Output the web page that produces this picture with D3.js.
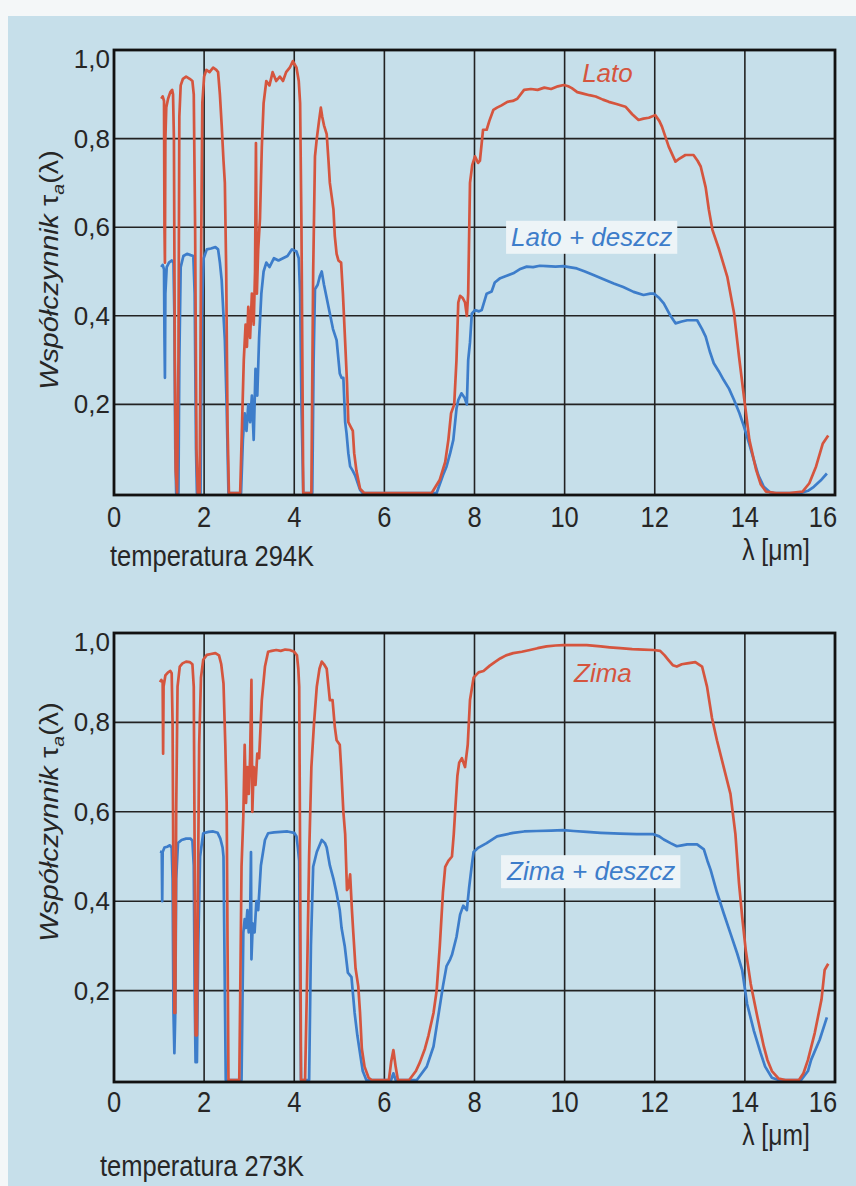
<!DOCTYPE html>
<html><head><meta charset="utf-8">
<script src="https://cdn.jsdelivr.net/npm/d3@7"></script>
<style>
html,body{margin:0;padding:0;background:#fff;}
svg{display:block;}
text{font-family:"Liberation Sans",Arial,sans-serif;}
</style></head>
<body>
<svg id="chart" width="856" height="1186"></svg>
<script>
// ---------- data ----------
const xTicks = [0, 2, 4, 6, 8, 10, 12, 14, 16];
const yTicks = [0.2, 0.4, 0.6, 0.8, 1.0];
const yTickLabels = ["0,2", "0,4", "0,6", "0,8", "1,0"];
const panelTitles = ["temperatura 294K", "temperatura 273K"];
const seriesNames = [["Lato", "Lato + deszcz"], ["Zima", "Zima + deszcz"]];

// [wavelength µm, transmittance]
const lato = [[1.05,0.89],[1.08,0.895],[1.11,0.885],[1.12,0.6],[1.13,0.52],[1.14,0.8],[1.16,0.87],[1.2,0.89],[1.25,0.905],[1.29,0.91],[1.31,0.9],[1.33,0.8],[1.35,0.3],[1.37,0.05],[1.4,0],[1.43,0.3],[1.45,0.85],[1.48,0.92],[1.53,0.935],[1.6,0.94],[1.68,0.935],[1.74,0.93],[1.77,0.9],[1.8,0.6],[1.83,0.1],[1.86,0],[1.9,0],[1.93,0.5],[1.96,0.88],[2.0,0.94],[2.05,0.955],[2.12,0.95],[2.2,0.96],[2.27,0.955],[2.31,0.95],[2.35,0.9],[2.39,0.83],[2.43,0.75],[2.46,0.7],[2.49,0.5],[2.52,0.15],[2.55,0],[2.8,0],[2.84,0.15],[2.88,0.3],[2.92,0.38],[2.95,0.33],[2.98,0.42],[3.02,0.35],[3.06,0.45],[3.1,0.38],[3.13,0.5],[3.15,0.79],[3.17,0.45],[3.2,0.55],[3.24,0.62],[3.28,0.78],[3.32,0.88],[3.38,0.93],[3.45,0.92],[3.52,0.95],[3.6,0.93],[3.68,0.94],[3.75,0.93],[3.82,0.95],[3.9,0.96],[3.97,0.975],[4.05,0.96],[4.1,0.93],[4.13,0.88],[4.16,0.6],[4.2,0],[4.38,0],[4.42,0.5],[4.46,0.76],[4.5,0.8],[4.55,0.84],[4.59,0.87],[4.62,0.85],[4.66,0.83],[4.72,0.81],[4.76,0.75],[4.79,0.7],[4.83,0.67],[4.87,0.64],[4.9,0.58],[4.94,0.54],[4.98,0.525],[5.04,0.52],[5.08,0.45],[5.13,0.34],[5.17,0.25],[5.2,0.16],[5.25,0.15],[5.3,0.14],[5.33,0.09],[5.38,0.05],[5.46,0.01],[5.55,0],[7.05,0],[7.23,0.03],[7.35,0.07],[7.42,0.12],[7.48,0.18],[7.55,0.2],[7.6,0.3],[7.64,0.43],[7.68,0.445],[7.74,0.44],[7.79,0.43],[7.83,0.4],[7.86,0.45],[7.9,0.7],[7.95,0.74],[8.01,0.76],[8.08,0.745],[8.12,0.75],[8.19,0.82],[8.27,0.82],[8.33,0.84],[8.42,0.865],[8.5,0.87],[8.6,0.875],[8.73,0.883],[8.85,0.885],[8.95,0.89],[9.1,0.91],[9.25,0.912],[9.4,0.91],[9.55,0.915],[9.7,0.912],[9.85,0.918],[9.98,0.921],[10.08,0.918],[10.16,0.914],[10.28,0.905],[10.39,0.902],[10.55,0.898],[10.69,0.895],[10.85,0.888],[10.98,0.883],[11.15,0.878],[11.35,0.872],[11.5,0.855],[11.64,0.842],[11.75,0.845],[11.87,0.847],[12.01,0.853],[12.1,0.84],[12.16,0.827],[12.31,0.782],[12.46,0.748],[12.55,0.755],[12.68,0.763],[12.86,0.763],[12.95,0.75],[13.02,0.737],[13.13,0.69],[13.2,0.64],[13.28,0.594],[13.43,0.549],[13.61,0.488],[13.76,0.406],[13.87,0.308],[13.98,0.217],[14.1,0.12],[14.25,0.052],[14.35,0.02],[14.47,0.003],[14.69,0],[14.99,0],[15.28,0.003],[15.43,0.022],[15.58,0.06],[15.73,0.112],[15.85,0.13]];

const latoDeszcz = [[1.05,0.51],[1.08,0.515],[1.11,0.505],[1.12,0.35],[1.13,0.26],[1.14,0.45],[1.17,0.51],[1.22,0.52],[1.28,0.525],[1.32,0.52],[1.34,0.4],[1.36,0.1],[1.38,0],[1.43,0],[1.45,0.3],[1.48,0.51],[1.54,0.535],[1.62,0.54],[1.7,0.537],[1.76,0.535],[1.79,0.45],[1.82,0.1],[1.84,0],[1.92,0],[1.95,0.4],[1.99,0.53],[2.06,0.55],[2.15,0.552],[2.25,0.555],[2.31,0.55],[2.35,0.52],[2.39,0.48],[2.43,0.4],[2.46,0.345],[2.5,0.195],[2.54,0],[2.82,0],[2.86,0.12],[2.9,0.18],[2.94,0.14],[2.98,0.2],[3.02,0.16],[3.06,0.22],[3.1,0.12],[3.14,0.28],[3.18,0.22],[3.22,0.35],[3.27,0.45],[3.32,0.5],[3.38,0.52],[3.45,0.51],[3.55,0.53],[3.65,0.525],[3.75,0.53],[3.85,0.535],[3.95,0.55],[4.05,0.545],[4.1,0.53],[4.13,0.45],[4.16,0.2],[4.2,0],[4.4,0],[4.43,0.3],[4.46,0.46],[4.52,0.47],[4.57,0.49],[4.61,0.5],[4.66,0.47],[4.72,0.44],[4.79,0.405],[4.86,0.37],[4.94,0.345],[5.01,0.27],[5.05,0.26],[5.09,0.26],[5.13,0.16],[5.16,0.135],[5.2,0.09],[5.24,0.06],[5.3,0.05],[5.35,0.04],[5.46,0.007],[5.52,0],[7.16,0],[7.3,0.04],[7.38,0.06],[7.46,0.09],[7.53,0.12],[7.6,0.19],[7.64,0.21],[7.71,0.225],[7.78,0.215],[7.83,0.2],[7.86,0.3],[7.9,0.34],[7.94,0.405],[8.01,0.413],[8.1,0.41],[8.16,0.413],[8.27,0.45],[8.38,0.455],[8.45,0.475],[8.57,0.485],[8.7,0.49],[8.86,0.496],[9.0,0.505],[9.16,0.511],[9.3,0.51],[9.45,0.513],[9.6,0.512],[9.8,0.511],[9.97,0.512],[10.1,0.51],[10.27,0.507],[10.45,0.5],[10.64,0.492],[10.85,0.483],[11.09,0.473],[11.3,0.465],[11.53,0.454],[11.75,0.447],[11.9,0.45],[11.98,0.45],[12.1,0.44],[12.2,0.428],[12.35,0.4],[12.46,0.383],[12.6,0.387],[12.72,0.39],[12.94,0.39],[13.05,0.37],[13.13,0.353],[13.22,0.32],[13.31,0.293],[13.42,0.275],[13.53,0.255],[13.65,0.235],[13.76,0.21],[13.88,0.18],[13.98,0.15],[14.1,0.11],[14.2,0.074],[14.3,0.04],[14.42,0.014],[14.55,0.002],[14.65,0],[15.24,0],[15.4,0.005],[15.53,0.014],[15.68,0.028],[15.82,0.044]];

const zima = [[1.02,0.89],[1.05,0.895],[1.08,0.89],[1.09,0.73],[1.1,0.88],[1.14,0.905],[1.2,0.912],[1.25,0.915],[1.28,0.91],[1.3,0.8],[1.32,0.4],[1.34,0.15],[1.36,0.15],[1.38,0.6],[1.41,0.88],[1.46,0.925],[1.52,0.932],[1.6,0.936],[1.68,0.935],[1.74,0.93],[1.77,0.88],[1.79,0.5],[1.81,0.1],[1.84,0.1],[1.86,0.4],[1.89,0.75],[1.93,0.9],[1.98,0.94],[2.06,0.951],[2.15,0.953],[2.25,0.955],[2.33,0.95],[2.38,0.93],[2.43,0.887],[2.47,0.75],[2.5,0.62],[2.52,0.3],[2.54,0],[2.78,0],[2.8,0.18],[2.83,0.477],[2.87,0.59],[2.9,0.75],[2.93,0.62],[2.96,0.7],[2.99,0.64],[3.02,0.72],[3.05,0.895],[3.07,0.6],[3.1,0.7],[3.14,0.66],[3.18,0.73],[3.22,0.72],[3.28,0.85],[3.35,0.925],[3.42,0.958],[3.5,0.96],[3.6,0.962],[3.7,0.96],[3.8,0.963],[3.9,0.962],[4.0,0.958],[4.06,0.95],[4.09,0.92],[4.11,0.88],[4.13,0.5],[4.15,0],[4.24,0],[4.28,0.2],[4.33,0.5],[4.38,0.7],[4.44,0.8],[4.5,0.88],[4.56,0.92],[4.61,0.936],[4.66,0.93],[4.72,0.92],[4.76,0.88],[4.79,0.85],[4.85,0.85],[4.9,0.79],[4.94,0.76],[5.01,0.75],[5.04,0.7],[5.09,0.6],[5.13,0.55],[5.17,0.425],[5.2,0.43],[5.24,0.46],[5.28,0.38],[5.31,0.33],[5.36,0.25],[5.42,0.21],[5.46,0.15],[5.5,0.07],[5.56,0.03],[5.65,0.005],[5.72,0],[6.1,0],[6.15,0.04],[6.2,0.067],[6.25,0.03],[6.3,0],[6.55,0],[6.7,0.02],[6.79,0.04],[6.9,0.07],[6.98,0.1],[7.09,0.15],[7.16,0.2],[7.23,0.3],[7.3,0.42],[7.35,0.477],[7.42,0.49],[7.5,0.5],[7.54,0.55],[7.57,0.6],[7.62,0.68],[7.66,0.71],[7.72,0.72],[7.79,0.7],[7.85,0.75],[7.9,0.85],[7.98,0.9],[8.09,0.912],[8.2,0.915],[8.34,0.927],[8.45,0.935],[8.57,0.943],[8.7,0.95],[8.86,0.955],[9.05,0.958],[9.23,0.962],[9.4,0.966],[9.6,0.97],[9.8,0.972],[9.97,0.973],[10.2,0.973],[10.49,0.973],[10.8,0.97],[11.0,0.968],[11.23,0.966],[11.5,0.964],[11.75,0.963],[11.97,0.962],[12.12,0.96],[12.22,0.95],[12.3,0.94],[12.4,0.928],[12.49,0.925],[12.6,0.93],[12.72,0.932],[12.9,0.935],[13.05,0.925],[13.16,0.88],[13.27,0.81],[13.38,0.76],[13.53,0.7],[13.68,0.64],[13.79,0.55],[13.87,0.44],[13.94,0.365],[14.02,0.29],[14.13,0.215],[14.28,0.14],[14.42,0.075],[14.5,0.045],[14.6,0.02],[14.75,0.003],[14.9,0],[15.2,0],[15.3,0.015],[15.4,0.045],[15.55,0.105],[15.7,0.18],[15.77,0.246],[15.85,0.26]];

const zimaDeszcz = [[1.02,0.511],[1.06,0.51],[1.07,0.4],[1.08,0.51],[1.12,0.52],[1.18,0.522],[1.24,0.525],[1.28,0.52],[1.3,0.45],[1.32,0.15],[1.34,0.06],[1.36,0.15],[1.38,0.45],[1.42,0.53],[1.5,0.537],[1.6,0.54],[1.7,0.54],[1.74,0.535],[1.77,0.48],[1.79,0.2],[1.81,0.04],[1.84,0.04],[1.87,0.3],[1.91,0.5],[1.98,0.552],[2.1,0.555],[2.2,0.556],[2.3,0.553],[2.36,0.54],[2.41,0.52],[2.43,0.5],[2.46,0.2],[2.48,0],[2.83,0],[2.87,0.33],[2.9,0.36],[2.93,0.34],[2.96,0.38],[2.99,0.33],[3.02,0.36],[3.04,0.51],[3.05,0.27],[3.08,0.35],[3.12,0.33],[3.16,0.4],[3.2,0.38],[3.26,0.48],[3.35,0.537],[3.42,0.552],[3.55,0.554],[3.7,0.555],[3.85,0.556],[4.0,0.553],[4.05,0.545],[4.08,0.52],[4.11,0.49],[4.13,0.2],[4.15,0],[4.33,0],[4.37,0.3],[4.42,0.477],[4.5,0.51],[4.61,0.537],[4.68,0.53],[4.72,0.52],[4.79,0.48],[4.87,0.45],[4.94,0.418],[5.01,0.38],[5.05,0.34],[5.12,0.3],[5.19,0.24],[5.27,0.23],[5.34,0.15],[5.4,0.1],[5.46,0.06],[5.52,0.02],[5.6,0],[6.15,0],[6.2,0.015],[6.25,0],[6.72,0],[6.94,0.03],[7.09,0.075],[7.16,0.12],[7.23,0.165],[7.3,0.21],[7.38,0.255],[7.46,0.27],[7.5,0.28],[7.6,0.32],[7.68,0.37],[7.75,0.39],[7.83,0.38],[7.88,0.43],[7.94,0.48],[7.98,0.51],[8.09,0.52],[8.27,0.53],[8.5,0.545],[8.86,0.553],[9.1,0.556],[9.38,0.557],[9.7,0.558],[9.97,0.559],[10.2,0.557],[10.49,0.555],[10.8,0.553],[11.23,0.551],[11.6,0.55],[11.97,0.55],[12.1,0.545],[12.2,0.538],[12.35,0.53],[12.49,0.523],[12.6,0.525],[12.72,0.527],[12.94,0.527],[13.09,0.516],[13.17,0.49],[13.24,0.47],[13.38,0.42],[13.53,0.373],[13.68,0.328],[13.83,0.283],[13.94,0.246],[14.05,0.17],[14.2,0.11],[14.35,0.06],[14.45,0.03],[14.6,0.005],[14.75,0],[15.25,0],[15.4,0.02],[15.47,0.045],[15.66,0.09],[15.82,0.14]];

// ---------- drawing ----------
const RED = "#d5553e", BLUE = "#3d7dca", BG = "#c6dfea", INK = "#222";
const svg = d3.select("#chart");
svg.append("rect").attr("width", 856).attr("height", 1186).attr("fill", "#f4f7f8");
svg.append("rect").attr("x", 8).attr("y", 16).attr("width", 848).attr("height", 1170).attr("fill", BG);

const x = d3.scaleLinear().domain([0, 16]).range([114, 835]);

const panels = [
  {top: 50, bottom: 493, data: [lato, latoDeszcz], names: seriesNames[0], title: panelTitles[0],
   titleY: 270, tickY: 527, lamY: 560, tempY: 566,
   red: {lx: 10.95, ly: 0.928}, blue: {lx: 10.6, ly: 0.558}},
  {top: 633, bottom: 1080, data: [zima, zimaDeszcz], names: seriesNames[1], title: panelTitles[1],
   titleY: 822, tickY: 1112, lamY: 1145, tempY: 1176,
   red: {lx: 10.85, ly: 0.89}, blue: {lx: 10.59, ly: 0.447}}
];

panels.forEach((p, i) => {
  const y = d3.scaleLinear().domain([0, 1]).range([p.bottom, p.top]);
  const g = svg.append("g");
  const x0 = x(0), x1 = x(16), yT = y(1), yB = y(0) + 2;

  // grid
  g.append("g").selectAll("line.v").data(xTicks.filter(t => t > 0 && t < 16)).join("line")
    .attr("x1", d => x(d)).attr("x2", d => x(d)).attr("y1", yT).attr("y2", yB)
    .attr("stroke", INK).attr("stroke-width", 1.6);
  g.append("g").selectAll("line.h").data(yTicks.filter(t => t < 1)).join("line")
    .attr("x1", x0).attr("x2", x1).attr("y1", d => y(d)).attr("y2", d => y(d))
    .attr("stroke", INK).attr("stroke-width", 1.6);

  // curves
  const clipId = "clip" + i;
  svg.append("clipPath").attr("id", clipId).append("rect")
    .attr("x", x0).attr("y", yT - 2).attr("width", x1 - x0).attr("height", yB - yT + 2);
  const line = d3.line().x(d => x(d[0])).y(d => y(d[1]));
  const lg = g.append("g").attr("clip-path", `url(#${clipId})`);
  lg.append("path").datum(p.data[1]).attr("d", line).attr("fill", "none")
    .attr("stroke", BLUE).attr("stroke-width", 2.7).attr("stroke-linejoin", "round");
  lg.append("path").datum(p.data[0]).attr("d", line).attr("fill", "none")
    .attr("stroke", RED).attr("stroke-width", 2.7).attr("stroke-linejoin", "round");

  // frame
  g.append("rect").attr("x", x0).attr("y", yT).attr("width", x1 - x0).attr("height", yB - yT)
    .attr("fill", "none").attr("stroke", "#111").attr("stroke-width", 2.8);

  // y tick labels
  g.selectAll("text.yt").data(yTicks).join("text")
    .attr("x", x0 - 4).attr("y", d => y(d) + (d === 1 ? 18 : 9))
    .attr("text-anchor", "end").attr("font-size", 26).attr("fill", "#262626")
    .text((d, k) => yTickLabels[k]);

  // x tick labels
  g.selectAll("text.xt").data(xTicks).join("text")
    .attr("transform", d => `translate(${d === 16 ? x(d) - 12 : x(d)},${p.tickY}) scale(0.85,1)`)
    .attr("text-anchor", "middle").attr("font-size", 30).attr("fill", "#262626")
    .text(d => d);

  // lambda label
  const lam = g.append("text").attr("transform", `translate(776,${p.lamY}) scale(0.85,1)`)
    .attr("text-anchor", "middle").attr("font-size", 29).attr("fill", "#262626");
  lam.append("tspan").text("λ [");
  lam.append("tspan").text("μ");
  lam.append("tspan").text("m]");

  // temperature label
  g.append("text").attr("transform", `translate(${i === 0 ? 110 : 100},${p.tempY}) scale(0.85,1)`)
    .attr("font-size", 30).attr("fill", "#262626").text(p.title);

  // y axis title
  const yt = g.append("text")
    .attr("transform", `translate(58,${p.titleY}) rotate(-90) scale(1.15,1)`)
    .attr("text-anchor", "middle").attr("font-size", 25).attr("fill", "#262626");
  yt.append("tspan").attr("font-style", "italic").text("Współczynnik ");
  yt.append("tspan").text("τ");
  yt.append("tspan").attr("font-style", "italic").attr("font-size", 17).attr("dy", 6).text("a");
  yt.append("tspan").attr("dy", -6).text("(λ)");

  // series labels
  g.append("text").attr("x", x(p.red.lx)).attr("y", y(p.red.ly))
    .attr("text-anchor", "middle").attr("font-style", "italic").attr("font-size", 26)
    .attr("fill", RED).text(p.names[0]);
  const bt = g.append("text").attr("x", x(p.blue.lx)).attr("y", y(p.blue.ly))
    .attr("text-anchor", "middle").attr("font-style", "italic").attr("font-size", 26)
    .attr("fill", BLUE).text(p.names[1]);
  const bb = bt.node().getBBox();
  g.insert("rect", () => bt.node())
    .attr("x", bb.x - 5).attr("y", bb.y - 1).attr("width", bb.width + 10).attr("height", bb.height + 3)
    .attr("fill", "#edf4f7");
});
</script>
</body></html>
